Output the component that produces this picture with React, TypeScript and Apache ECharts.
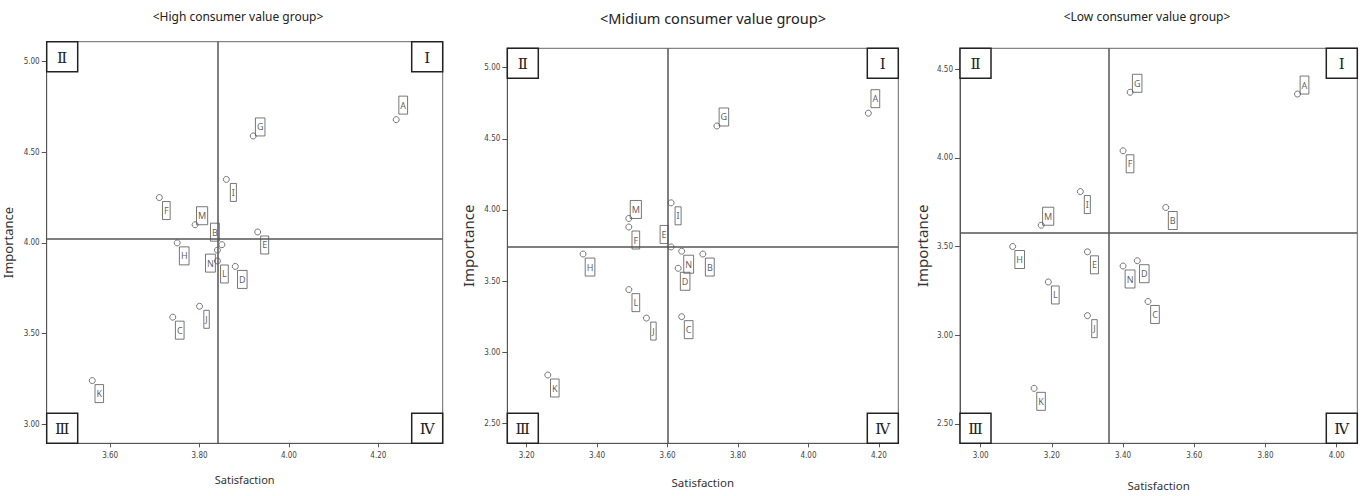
import React, { useEffect, useRef } from "react";
import * as echarts from "echarts";

// ---- data ----
const letters = ["A", "B", "C", "D", "E", "F", "G", "H", "I", "J", "K", "L", "M", "N"];

const highTitle = "<High consumer value group>";
const highSatisfaction = [4.24, 3.85, 3.74, 3.88, 3.93, 3.71, 3.92, 3.75, 3.86, 3.80, 3.56, 3.84, 3.79, 3.84];
const highImportance = [4.68, 3.99, 3.59, 3.87, 4.06, 4.25, 4.59, 4.00, 4.35, 3.65, 3.24, 3.90, 4.10, 3.96];
const highMeanSatisfaction = 3.836;
const highMeanImportance = 4.02;
const highXRange = [3.458, 4.344];
const highYRange = [2.894, 5.11];
const highXTicks = [3.6, 3.8, 4.0, 4.2];
const highYTicks = [3.0, 3.5, 4.0, 4.5, 5.0];

const midTitle = "<Midium consumer value group>";
const midSatisfaction = [4.17, 3.70, 3.64, 3.63, 3.61, 3.49, 3.74, 3.36, 3.61, 3.54, 3.26, 3.49, 3.49, 3.64];
const midImportance = [4.68, 3.69, 3.25, 3.59, 3.74, 3.88, 4.59, 3.69, 4.05, 3.24, 2.84, 3.44, 3.94, 3.71];
const midMeanSatisfaction = 3.598;
const midMeanImportance = 3.738;
const midXRange = [3.145, 4.255];
const midYRange = [2.36, 5.136];
const midXTicks = [3.2, 3.4, 3.6, 3.8, 4.0, 4.2];
const midYTicks = [2.5, 3.0, 3.5, 4.0, 4.5, 5.0];

const lowTitle = "<Low consumer value group>";
const lowSatisfaction = [3.89, 3.52, 3.47, 3.44, 3.30, 3.40, 3.42, 3.09, 3.28, 3.30, 3.15, 3.19, 3.17, 3.40];
const lowImportance = [4.36, 3.72, 3.19, 3.42, 3.47, 4.04, 4.37, 3.50, 3.81, 3.11, 2.70, 3.30, 3.62, 3.39];
const lowMeanSatisfaction = 3.358;
const lowMeanImportance = 3.575;
const lowXRange = [2.942, 4.058];
const lowYRange = [2.39, 4.618];
const lowXTicks = [3.0, 3.2, 3.4, 3.6, 3.8, 4.0];
const lowYTicks = [2.5, 3.0, 3.5, 4.0, 4.5];

const quadrantNames = ["Ⅰ", "Ⅱ", "Ⅲ", "Ⅳ"];
const xAxisName = "Satisfaction";
const yAxisName = "Importance";

// ---- layout / style (not data) ----
const layouts = [
  { left: 46.7, top: 41.7, width: 396, height: 401.6, titleX: 238, titleY: 16, titleSize: 12, yNameSize: 13, xNameSize: 11, yGap: 32, xGap: 31 },
  { left: 507.3, top: 48.3, width: 391, height: 395, titleX: 713, titleY: 18.3, titleSize: 14.5, yNameSize: 15, xNameSize: 11.5, yGap: 32, xGap: 33 },
  { left: 960, top: 48.3, width: 397.3, height: 395, titleX: 1147, titleY: 16, titleSize: 12, yNameSize: 15, xNameSize: 11.5, yGap: 30.5, xGap: 36 },
];

// label placement keywords per panel (dr = down-right default)
const placements: Record<string, string>[] = [
  { A: "urHigh", G: "ur", M: "ur", B: "ul", N: "dl" },
  { A: "urHigh", G: "ur", M: "ur", E: "ul" },
  { A: "ur", G: "ur", M: "ur" },
];
const offsetOf: Record<string, number[]> = {
  dr: [7, 13],
  ur: [7, -9],
  urHigh: [7, -14.5],
  ul: [-7, -12.5],
  dl: [-7, 13],
};

const TICK_FONT = "'Liberation Sans Narrow', 'DejaVu Sans Condensed', 'Noto Sans', sans-serif";
const TEXT_FONT = "'Noto Sans', 'Noto Sans CJK KR', sans-serif";

const panels = [
  { title: highTitle, sat: highSatisfaction, imp: highImportance, mx: highMeanSatisfaction, my: highMeanImportance, xr: highXRange, yr: highYRange, xt: highXTicks, yt: highYTicks },
  { title: midTitle, sat: midSatisfaction, imp: midImportance, mx: midMeanSatisfaction, my: midMeanImportance, xr: midXRange, yr: midYRange, xt: midXTicks, yt: midYTicks },
  { title: lowTitle, sat: lowSatisfaction, imp: lowImportance, mx: lowMeanSatisfaction, my: lowMeanImportance, xr: lowXRange, yr: lowYRange, xt: lowXTicks, yt: lowYTicks },
];

function buildOption() {
  const grid: any[] = [];
  const xAxis: any[] = [];
  const yAxis: any[] = [];
  const series: any[] = [];
  const graphic: any[] = [];

  panels.forEach((p, i) => {
    const L = layouts[i];
    grid.push({
      left: L.left,
      top: L.top,
      width: L.width,
      height: L.height,
      show: true,
      borderColor: "#666",
      borderWidth: 1,
      backgroundColor: "#fff",
      containLabel: false,
    });
    xAxis.push({
      type: "value",
      gridIndex: i,
      min: p.xr[0],
      max: p.xr[1],
      name: xAxisName,
      nameLocation: "middle",
      nameGap: L.xGap,
      nameTextStyle: { fontFamily: TEXT_FONT, fontSize: L.xNameSize, color: "#333" },
      splitLine: { show: false },
      axisLine: { show: true, onZero: false, lineStyle: { color: "#555", width: 1 } },
      axisTick: { show: true, length: 4, customValues: p.xt, lineStyle: { color: "#555" } },
      axisLabel: {
        customValues: p.xt,
        margin: 8,
        fontFamily: TICK_FONT,
        fontSize: 8,
        color: "#444",
        formatter: (v: number) => v.toFixed(2),
      },
    });
    yAxis.push({
      type: "value",
      gridIndex: i,
      min: p.yr[0],
      max: p.yr[1],
      name: yAxisName,
      nameLocation: "middle",
      nameGap: L.yGap,
      nameTextStyle: { fontFamily: TEXT_FONT, fontSize: L.yNameSize, color: "#333" },
      splitLine: { show: false },
      axisLine: { show: true, onZero: false, lineStyle: { color: "#555", width: 1 } },
      axisTick: { show: true, length: 5, customValues: p.yt, lineStyle: { color: "#555" } },
      axisLabel: {
        customValues: p.yt,
        margin: 7,
        fontFamily: TICK_FONT,
        fontSize: 8,
        color: "#444",
        formatter: (v: number) => v.toFixed(2),
      },
    });
    series.push({
      type: "scatter",
      xAxisIndex: i,
      yAxisIndex: i,
      symbol: "circle",
      symbolSize: 6,
      itemStyle: { color: "#fff", borderColor: "#555", borderWidth: 1 },
      label: {
        show: true,
        position: "inside",
        formatter: "{b}",
        fontFamily: TEXT_FONT,
        fontSize: 9,
        lineHeight: 9,
        color: "#333",
        textBorderWidth: 0,
        textBorderColor: "transparent",
        borderColor: "#555",
        borderWidth: 1,
        padding: [5, 1.5, 4, 1.5],
        align: "center",
        verticalAlign: "middle",
      },
      data: letters.map((l, k) => ({
        name: l,
        value: [p.sat[k], p.imp[k]],
        label: { offset: offsetOf[placements[i][l] || "dr"] },
      })),
      markLine: {
        silent: true,
        symbol: "none",
        animation: false,
        label: { show: false },
        lineStyle: { color: "#555", width: 1.5, type: "solid" },
        data: [{ xAxis: p.mx }, { yAxis: p.my }],
      },
      z: 3,
    });

    // title
    graphic.push({
      type: "text",
      x: L.titleX,
      y: L.titleY,
      z: 10,
      style: {
        text: p.title,
        fontFamily: TEXT_FONT,
        fontSize: L.titleSize,
        fill: "#222",
        align: "center",
        verticalAlign: "middle",
        textAlign: "center",
        textVerticalAlign: "middle",
      },
    });

    // quadrant boxes
    const bw = 31;
    const bh = 30;
    const corners = [
      { name: quadrantNames[0], x: L.left + L.width - bw, y: L.top },
      { name: quadrantNames[1], x: L.left, y: L.top },
      { name: quadrantNames[2], x: L.left, y: L.top + L.height - bh },
      { name: quadrantNames[3], x: L.left + L.width - bw, y: L.top + L.height - bh },
    ];
    corners.forEach((c) => {
      graphic.push({
        type: "rect",
        z: 20,
        shape: { x: c.x, y: c.y, width: bw, height: bh },
        style: { fill: "#fff", stroke: "#222", lineWidth: 1.5 },
      });
      graphic.push({
        type: "text",
        z: 21,
        x: c.x + bw / 2,
        y: c.y + bh / 2 + 1,
        style: {
          text: c.name,
          fontFamily: "'DejaVu Serif', 'Noto Sans CJK KR', serif",
          fontSize: 15,
          fill: "#222",
          align: "center",
          verticalAlign: "middle",
          textAlign: "center",
          textVerticalAlign: "middle",
        },
      });
    });
  });

  return {
    animation: false,
    backgroundColor: "#fff",
    grid,
    xAxis,
    yAxis,
    series,
    graphic,
  };
}

export default function App() {
  const ref = useRef<HTMLDivElement>(null);
  useEffect(() => {
    if (!ref.current) return;
    const chart = echarts.init(ref.current, undefined, { renderer: "svg" });
    chart.setOption(buildOption() as any);
    return () => chart.dispose();
  }, []);
  return (
    <div
      ref={ref}
      style={{ position: "absolute", left: 0, top: 0, width: 1366, height: 496, background: "#fff" }}
    />
  );
}
